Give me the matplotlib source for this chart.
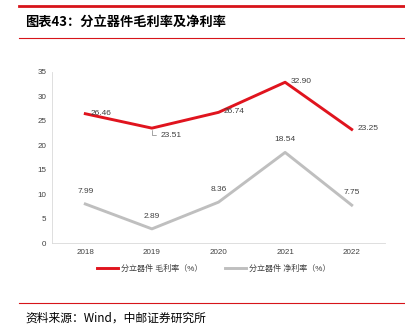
import matplotlib
matplotlib.use('Agg')
import matplotlib.pyplot as plt

plt.rcParams['font.family'] = ['Liberation Sans', 'Noto Sans CJK SC', 'DejaVu Sans']

anni = ['2018', '2019', '2020', '2021', '2022']
margine_lordo = [26.46, 23.51, 26.74, 32.90, 23.25]
margine_netto = [7.99, 2.89, 8.36, 18.54, 7.75]
nome_lordo = '分立器件 毛利率（%）'
nome_netto = '分立器件 净利率（%）'

fig = plt.figure(figsize=(4.06, 3.29), dpi=100)
ax = fig.add_axes([52 / 406, 1 - 243 / 329, 333 / 406, 171 / 329])

x = range(len(anni))
ax.plot(x, margine_lordo, color='#e0141e', linewidth=2.1, label=nome_lordo)
ax.plot(x, margine_netto, color='#bfbfbf', linewidth=2.1, label=nome_netto)

# etichette valori
for i, v in enumerate(margine_lordo):
    if i == 1:
        ax.annotate(f'{v:.2f}', (i, v), xytext=(6, -5), textcoords='offset points',
                    fontsize=6, color='#404040', va='center', ha='left',
                    arrowprops=dict(arrowstyle='-', color='#808080', lw=0.5, shrinkA=1, shrinkB=1,
                                    connectionstyle='angle,angleA=0,angleB=90,rad=0'))
    else:
        ax.annotate(f'{v:.2f}', (i, v), xytext=(4, 0.5), textcoords='offset points',
                    fontsize=6, color='#404040', va='center', ha='left')
for i, v in enumerate(margine_netto):
    ax.annotate(f'{v:.2f}', (i, v), xytext=(0, 9), textcoords='offset points',
                fontsize=6, color='#404040', va='center', ha='center')

ax.set_xlim(-0.5, 4.5)
ax.set_ylim(0, 35)
ax.set_yticks(range(0, 36, 5))
ax.set_xticks(list(x))
ax.set_xticklabels(anni)
ax.tick_params(labelsize=5.8, colors='#404040', length=0, pad=4)
for s in ['top', 'right']:
    ax.spines[s].set_visible(False)
ax.spines['left'].set_color('#d9d9d9')
ax.spines['bottom'].set_color('#d9d9d9')
ax.spines['left'].set_linewidth(0.6)
ax.spines['bottom'].set_linewidth(0.6)

ax.legend(loc='center', bbox_to_anchor=(214 / 406, 1 - 269 / 329), bbox_transform=fig.transFigure,
          ncol=2, frameon=False, fontsize=5.8, handlelength=2.6, handletextpad=0.4,
          columnspacing=2.8, labelcolor='#404040')

# intestazione e linee rosse
fig.add_artist(plt.Line2D([19 / 406, 1], [1 - 6 / 329] * 2, color='#d7141a', linewidth=2))
fig.add_artist(plt.Line2D([19 / 406, 1], [1 - 38 / 329] * 2, color='#d7141a', linewidth=0.8))
fig.add_artist(plt.Line2D([19 / 406, 1], [1 - 303 / 329] * 2, color='#d7141a', linewidth=0.8))
fig.text(25 / 406, 1 - 22 / 329, '图表43：分立器件毛利率及净利率', fontsize=9.5, fontweight='bold',
         va='center', ha='left', family=['Noto Sans CJK SC', 'DejaVu Sans'])
fig.text(25 / 406, 1 - 318 / 329, '资料来源：Wind，中邮证券研究所', fontsize=8.5,
         va='center', ha='left', family=['Noto Sans CJK SC', 'DejaVu Sans'])

fig.savefig('out.png', dpi=100)
